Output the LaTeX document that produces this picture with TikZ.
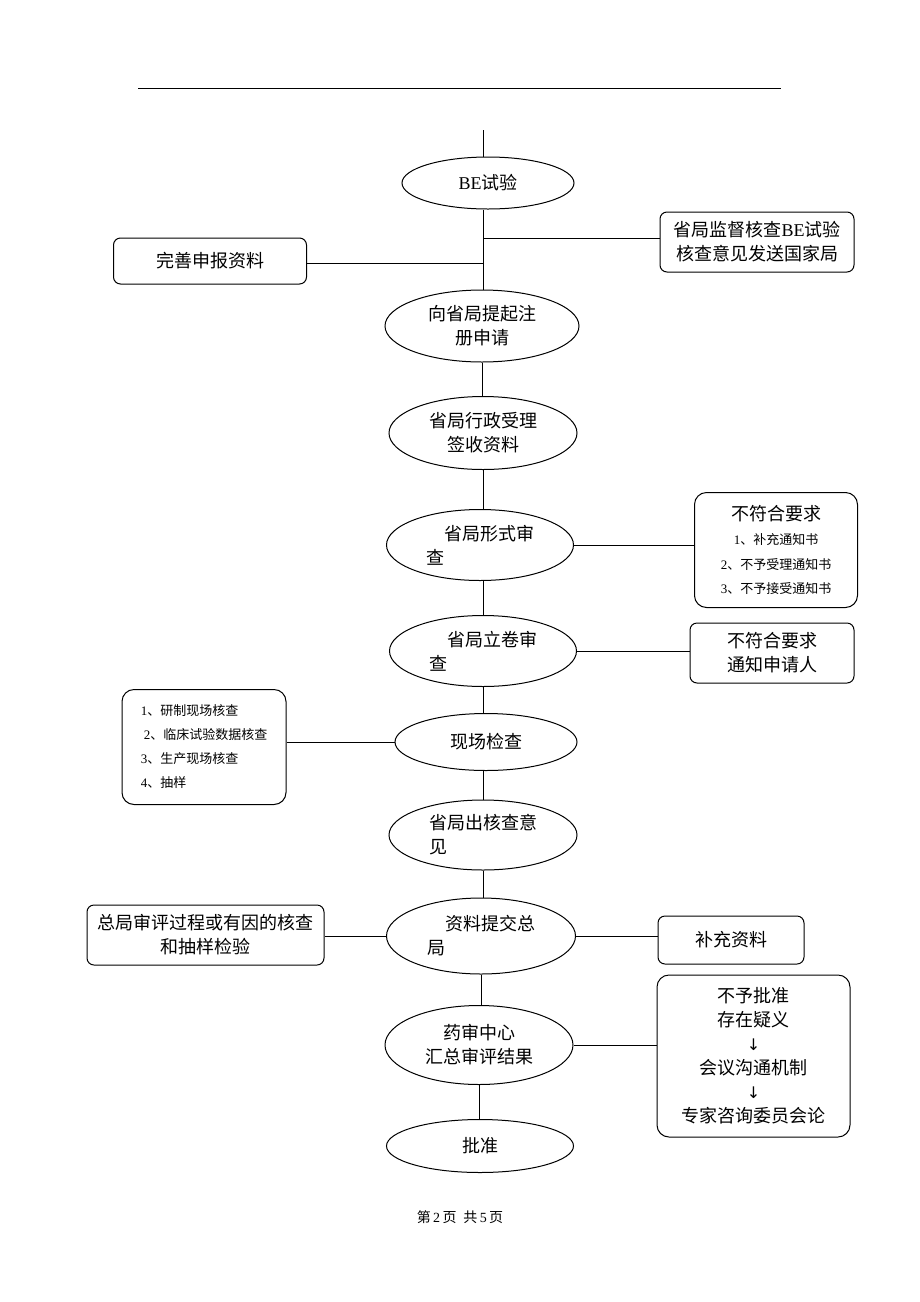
\documentclass[tikz,border=0pt]{standalone}
\usepackage{fontspec}
\setmainfont{Noto Sans CJK SC}
\newfontfamily\lat{Liberation Serif}
\newfontfamily\sym{DejaVu Sans}
\usetikzlibrary{shapes.geometric}
\begin{document}
\begin{tikzpicture}[x=1pt,y=-1pt,
  ell/.style={ellipse, draw, line width=1pt, inner sep=0pt, align=center},
  rbox/.style={draw, rounded corners=7pt, line width=1pt, inner sep=0pt, align=center},
  conn/.style={line width=1pt},
  every node/.style={font=\fontsize{18}{24}\selectfont}]
\useasboundingbox (0,0) rectangle (920,1302);
% header rule
\coordinate (r1) at (138,88);
\coordinate (r2) at (781,88);
\draw[line width=1pt] (r1) -- (r2);

% main column
\coordinate (top) at (483,130);
\node[ell, minimum width=172, minimum height=52] (be) at (488,183) {{\lat BE}试验};
\node[ell, minimum width=194, minimum height=72] (e2) at (482,326) {向省局提起注\\册申请};
\node[ell, minimum width=188, minimum height=73] (e3) at (483,433) {省局行政受理\\签收资料};
\node[ell, minimum width=187, minimum height=71, align=left] (e4) at (480,545) {\hspace{1em}省局形式审\\查};
\node[ell, minimum width=187, minimum height=71, align=left] (e5) at (483,651) {\hspace{1em}省局立卷审\\查};
\node[ell, minimum width=182, minimum height=57] (e6) at (486,742) {现场检查};
\node[ell, minimum width=188, minimum height=70, align=left] (e7) at (483,835) {省局出核查意\\见};
\node[ell, minimum width=189, minimum height=76, align=left] (e8) at (481,936) {\hspace{1em}资料提交总\\局};
\node[ell, minimum width=188, minimum height=79] (e9) at (479,1045) {药审中心\\汇总审评结果};
\node[ell, minimum width=187, minimum height=53] (e10) at (480,1146) {批准};

% side boxes
\node[rbox, minimum width=194, minimum height=60] (bR1) at (757,242) {省局监督核查{\lat BE}试验\\核查意见发送国家局};
\node[rbox, minimum width=193, minimum height=46] (bL1) at (210,261) {完善申报资料};
\node[rbox, rounded corners=12pt, minimum width=163, minimum height=115, font=\fontsize{13}{24.5}\selectfont] (bR4) at (776,550)
  {{\fontsize{18}{24.5}\selectfont 不符合要求}\\{\lat 1}、补充通知书\\{\lat 2}、不予受理通知书\\{\lat 3}、不予接受通知书};
\node[rbox, minimum width=164, minimum height=60] (bR5) at (772,653) {不符合要求\\通知申请人};
\node[rbox, rounded corners=12pt, minimum width=164, minimum height=115, align=left, font=\fontsize{13}{24}\selectfont] (bL6) at (204,747)
  {{\lat 1}、研制现场核查\\\hspace{3pt}{\lat 2}、临床试验数据核查\\{\lat 3}、生产现场核查\\{\lat 4}、抽样};
\node[rbox, minimum width=237, minimum height=60] (bL8) at (205.5,935) {总局审评过程或有因的核查\\和抽样检验};
\node[rbox, minimum width=146, minimum height=48] (bR8) at (731,940) {补充资料};
\node[rbox, rounded corners=12pt, minimum width=193, minimum height=162] (bR9) at (753.5,1056)
  {不予批准\\存在疑义\\{\sym\fontsize{16}{24}\selectfont ↓}\\会议沟通机制\\{\sym\fontsize{16}{24}\selectfont ↓}\\专家咨询委员会论};

% trunk connectors
\draw[conn] (top) -- (top |- be.north);
\draw[conn] (be.south -| top) -- (top |- e2.north);
\draw[conn] (e2.south) -- (e2.south |- e3.north);
\draw[conn] (e3.south) -- (e3.south |- e4.north);
\draw[conn] (e4.south -| e3.south) -- (e3.south |- e5.north);
\draw[conn] (e5.south) -- (e5.south |- e6.north);
\draw[conn] (e6.south -| e5.south) -- (e5.south |- e7.north);
\draw[conn] (e7.south) -- (e7.south |- e8.north);
\draw[conn] (e8.south) -- (e8.south |- e9.north);
\draw[conn] (e9.south) -- (e9.south |- e10.north);

% branch connectors
\coordinate (j1) at (483,238);
\coordinate (j2) at (483,263);
\draw[conn] (j1) -- (j1 -| bR1.west);
\draw[conn] (j2) -- (j2 -| bL1.east);
\draw[conn] (e4.east) -- (e4.east -| bR4.west);
\draw[conn] (e5.east) -- (e5.east -| bR5.west);
\draw[conn] (e6.west) -- (e6.west -| bL6.east);
\draw[conn] (e8.west) -- (e8.west -| bL8.east);
\draw[conn] (e8.east) -- (e8.east -| bR8.west);
\draw[conn] (e9.east) -- (e9.east -| bR9.west);

% footer
\node[font=\fontsize{14}{16}\selectfont] (foot) at (460,1217) {第\,{\lat 2}\,页\enspace 共\,{\lat 5}\,页};
\end{tikzpicture}
\end{document}
